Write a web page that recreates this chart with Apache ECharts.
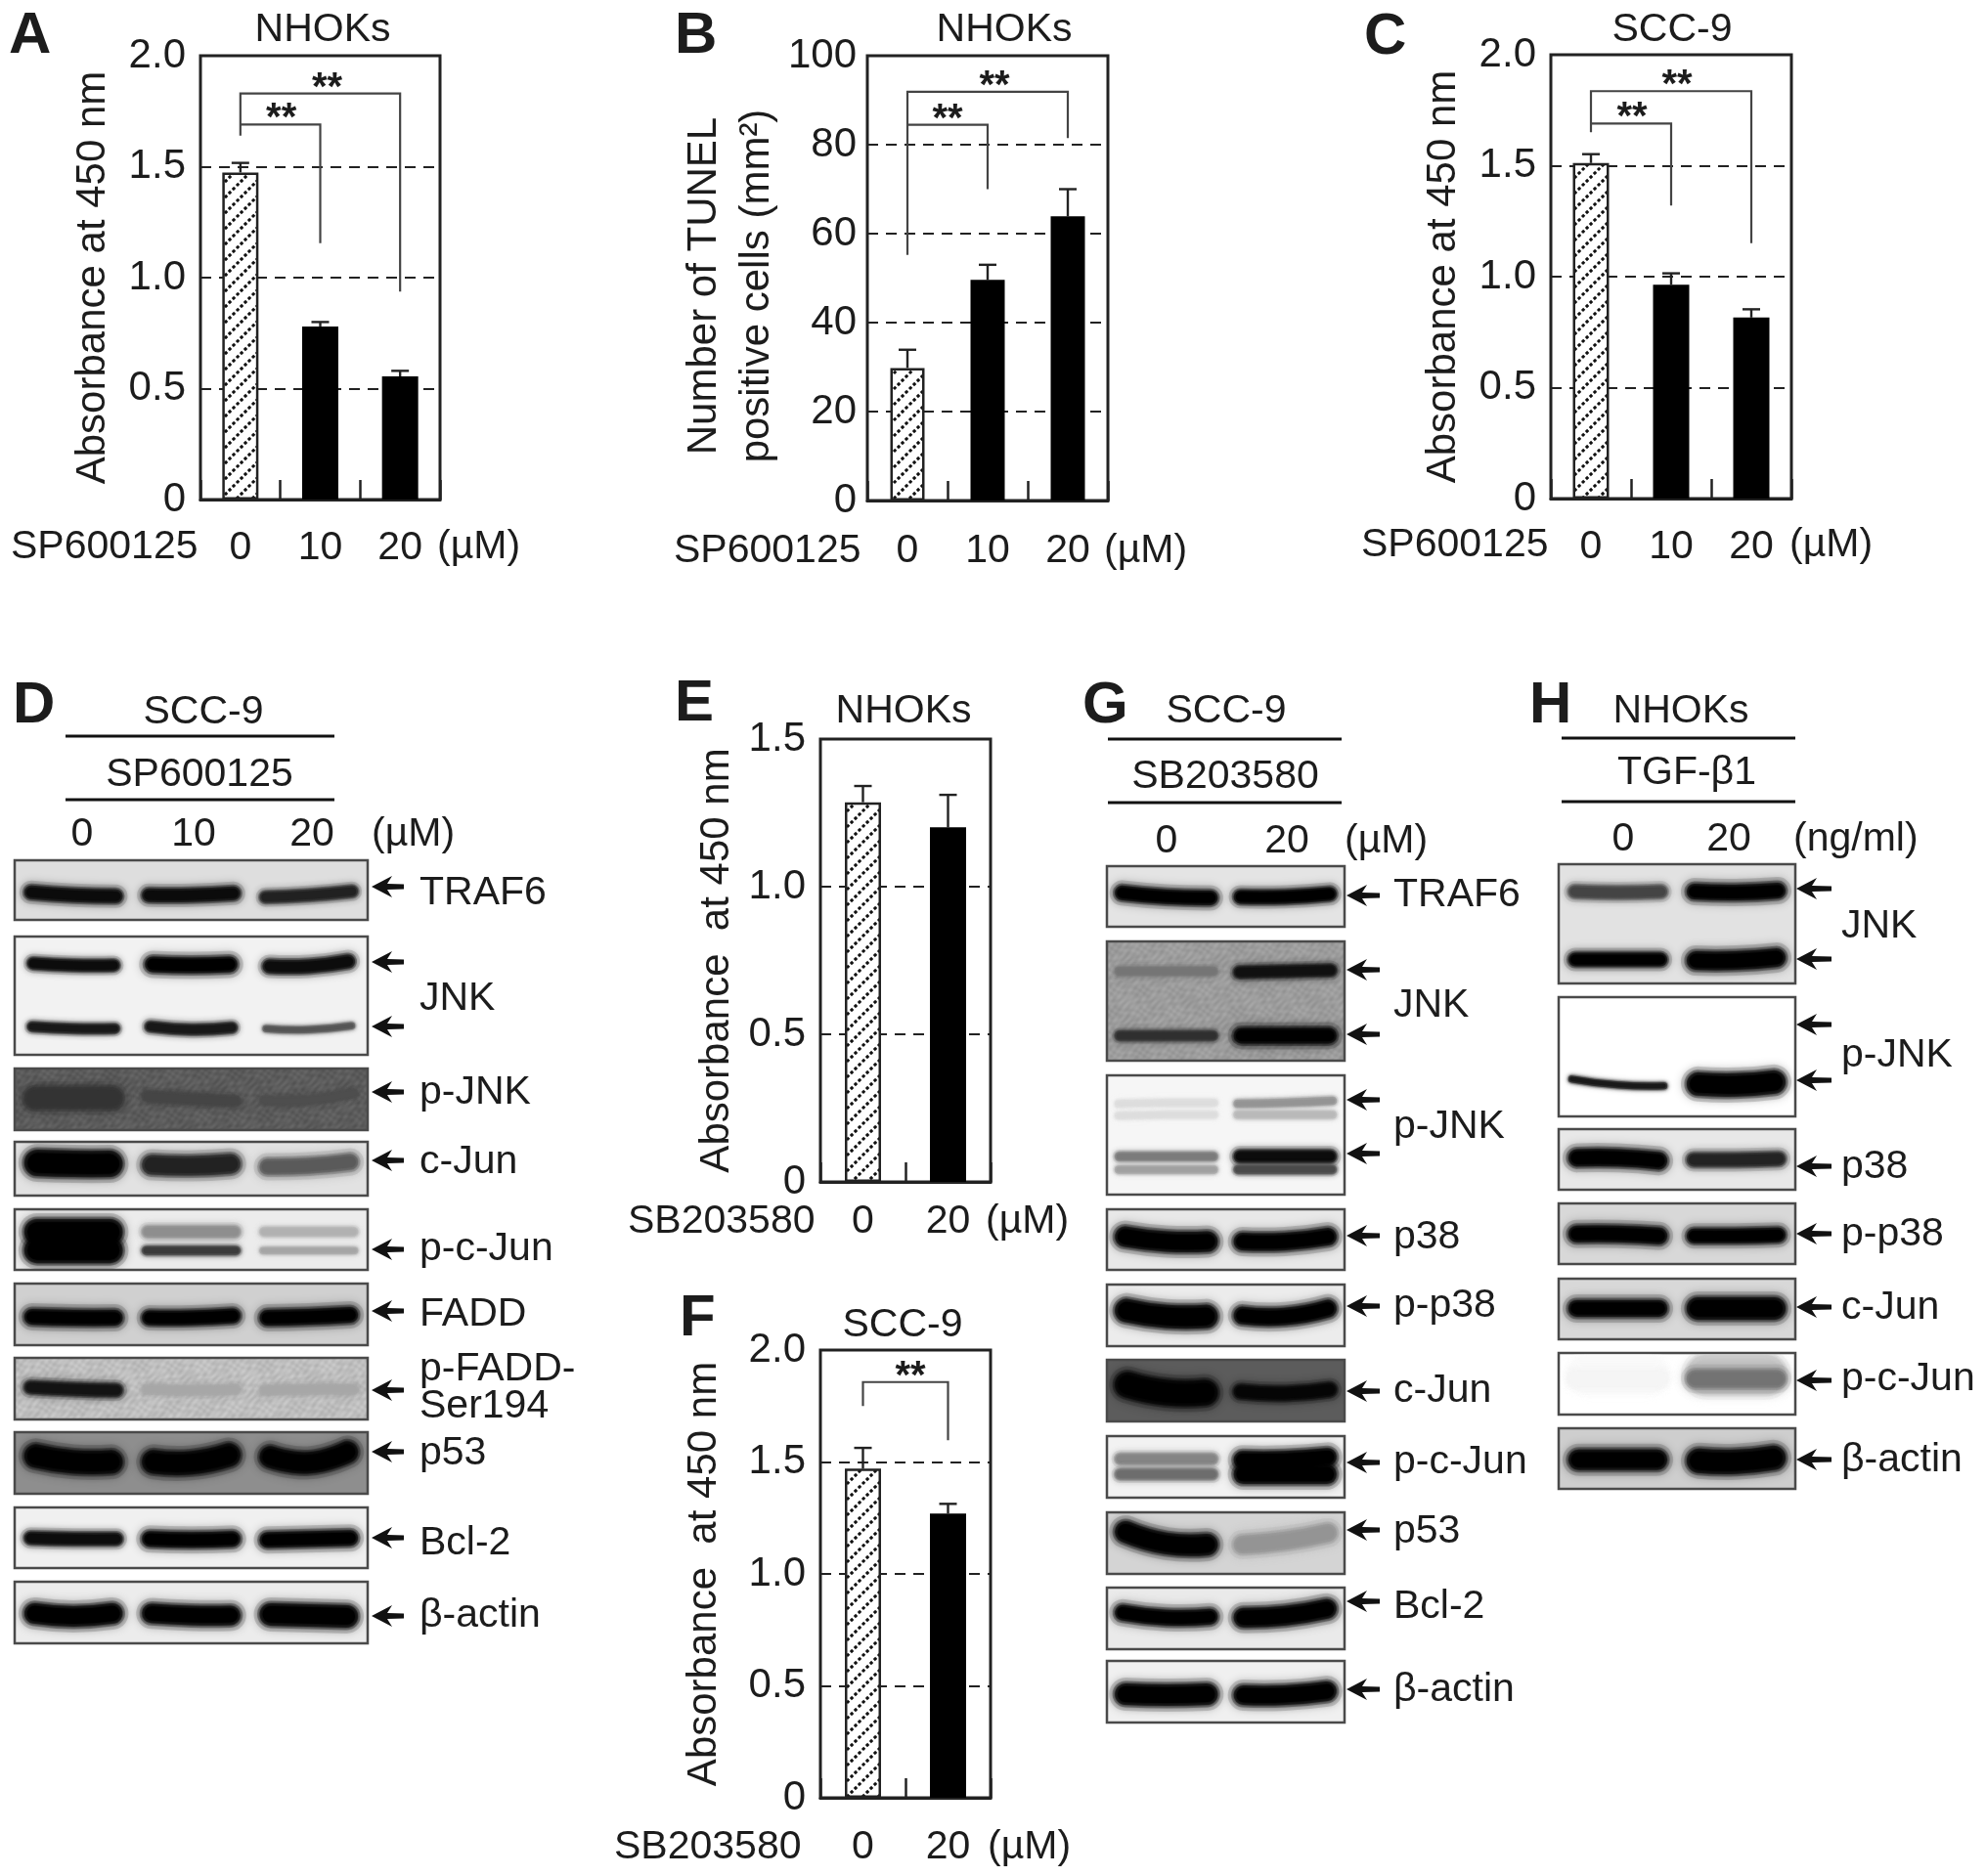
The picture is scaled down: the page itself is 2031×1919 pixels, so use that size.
<!DOCTYPE html>
<html>
<head>
<meta charset="utf-8">
<title>SP600125 / SB203580 / TGF-b1 figure</title>
<script src="https://cdn.jsdelivr.net/npm/echarts@6/dist/echarts.min.js"></script>
<style>
html, body { margin: 0; background: #fff; }
#main { width: 2031px; height: 1919px; }
</style>
</head>
<body>
<div id="main"></div>
<script>
// ---- bar chart values ----
var catsSP = ['0', '10', '20'];
var catsSB = ['0', '20'];

var ticksAbs2 = ['0', '0.5', '1.0', '1.5', '2.0'];
var ticksAbs15 = ['0', '0.5', '1.0', '1.5'];
var ticksTunel = ['0', '20', '40', '60', '80', '100'];

var valuesA = [1.474, 0.78, 0.555];
var errTopA = [1.517, 0.80, 0.58];
var valuesB = [29.8, 49.6, 63.9];
var errTopB = [33.9, 53, 70];
var valuesC = [1.512, 0.964, 0.816];
var errTopC = [1.552, 1.015, 0.853];
var valuesE = [1.286, 1.201];
var errTopE = [1.341, 1.311];
var valuesF = [1.47, 1.27];
var errTopF = [1.563, 1.313];

// from, to, level, left end, right end
var bracketsA = [[0, 2, 1.83, 1.64, 0.937], [0, 1, 1.69, 1.69, 1.155]];
var bracketsB = [[0, 2, 91.9, 55.2, 81.5], [0, 1, 84.5, 84.5, 70]];
var bracketsC = [[0, 2, 1.836, 1.651, 1.151], [0, 1, 1.69, 1.69, 1.32]];
var bracketsF = [[0, 1, 1.857, 1.75, 1.597]];

// ---- blot band densities, one value per lane ----
var lanesD = ['0', '10', '20'];
var lanesG = ['0', '20'];
var lanesH = ['0', '20'];

var dTraf6 = [0.95, 0.95, 0.85];
var dJnkUp = [0.95, 1, 0.95];
var dJnkLow = [0.9, 0.9, 0.65];
var dPJnk = [0.45, 0.25, 0.15];
var dCJun = [1, 0.85, 0.6];
var dPCJunUp = [1, 0.4, 0.25];
var dPCJunLow = [1, 0.75, 0.3];
var dFadd = [1, 1, 1];
var dPFadd = [0.9, 0.12, 0.12];
var dP53 = [1, 1, 1];
var dBcl2 = [0.95, 1, 1];
var dActin = [1, 1, 1];

var gTraf6 = [1, 1];
var gJnkUp = [0.25, 0.9];
var gJnkLow = [0.7, 1];
var gPJnkA = [0.1, 0.4];
var gPJnkB = [0.1, 0.25];
var gPJnkC = [0.5, 0.95];
var gPJnkD = [0.35, 0.7];
var gP38 = [1, 1];
var gPP38 = [1, 1];
var gCJun = [1, 0.95];
var gPCJunUp = [0.45, 1];
var gPCJunLow = [0.55, 1];
var gP53 = [1, 0.3];
var gBcl2 = [1, 1];
var gActin = [1, 1];

var hJnkUp = [0.7, 1];
var hJnkLow = [1, 1];
var hPJnk = [0.9, 1];
var hP38 = [1, 0.85];
var hPP38 = [1, 1];
var hCJun = [1, 1];
var hPCJunHalo = [0.02, 0.22];
var hPCJun = [0.04, 0.55];
var hActin = [1, 1];

// ---- blot layout ----
// top/bottom of the frame, background grey, rows: values, position 0-1, thickness per lane, curve per lane
var blotsD = [
	{y: [880, 941], bg: 222, rows: [{v: dTraf6, p: .57, t: [12, 12, 10], c: [[-2, 1, 2], [1, 1, -1], [3, 1, -3]]}]},
	{y: [958, 1079], bg: 242, w: .77, rows: [
		{v: dJnkUp, p: .235, t: [10, 14, 12], c: [[-1, 1, 1], [0, 1, 0], [2, 2, -3]]},
		{v: dJnkLow, p: .77, t: [8, 9, 5], c: [[-1, 1, 1], [-1, 2, 0], [1, 2, -2]]}
	]},
	{y: [1093, 1156], bg: 92, noise: 10, rows: [{v: dPJnk, p: .48, t: [20, 9, 7], c: [[0, 0, 0], [-2, 1, 3], [2, 2, -5]]}]},
	{y: [1168, 1223], bg: 226, rows: [{v: dCJun, p: .41, t: [25, 18, 14], c: [[-1, 0, 0], [1, 2, 0], [3, 2, -2]]}]},
	{y: [1237, 1299], bg: 236, rows: [
		{v: dPCJunUp, p: .37, t: [24, 10, 7], c: [[0, 0, 0], [0, 0, 0], [0, 0, 0]]},
		{v: dPCJunLow, p: .68, t: [24, 7, 5], c: [[0, 0, 0], [0, 0, 0], [0, 0, 0]]}
	]},
	{y: [1313, 1376], bg: 208, rows: [{v: dFadd, p: .54, t: [14, 13, 14], c: [[0, 1, 1], [1, 1, -1], [1, 0, -2]]}]},
	{y: [1389, 1452], bg: 190, noise: 12, rows: [{v: dPFadd, p: .51, t: [11, 8, 8], c: [[-2, 0, 1], [0, 1, 0], [1, 0, 0]]}]},
	{y: [1465, 1528], bg: 142, rows: [{v: dP53, p: .45, t: [22, 22, 20], c: [[-4, 2, 2], [2, 3, -5], [-3, 3, -8]]}]},
	{y: [1542, 1604], bg: 240, rows: [{v: dBcl2, p: .52, t: [11, 14, 14], c: [[-1, 0, 0], [0, 1, 0], [1, 0, -1]]}]},
	{y: [1618, 1681], bg: 236, rows: [{v: dActin, p: .53, t: [19, 18, 21], c: [[-1, 2, -1], [-1, 1, 1], [0, 1, 2]]}]}
];
var blotsG = [
	{y: [886, 948], bg: 228, rows: [{v: gTraf6, p: .49, t: [13, 12], c: [[-3, 1, 2], [1, 1, -2]]}]},
	{y: [963, 1085], bg: 156, noise: 10, rows: [
		{v: gJnkUp, p: .25, t: [7, 10], c: [[0, 0, 0], [1, 0, -1]]},
		{v: gJnkLow, p: .79, t: [8, 14], c: [[0, 0, 0], [0, 0, 0]]}
	]},
	{y: [1100, 1222], bg: 246, rows: [
		{v: gPJnkA, p: .23, t: [5, 6], c: [[1, 0, 0], [1, 0, -2]]},
		{v: gPJnkB, p: .33, t: [5, 6], c: [[1, 0, 0], [0, 0, 0]]},
		{v: gPJnkC, p: .68, t: [7, 11], c: [[0, 0, 0], [0, 0, 0]]},
		{v: gPJnkD, p: .79, t: [6, 7], c: [[0, 0, 0], [0, 0, 0]]}
	]},
	{y: [1237, 1299], bg: 232, rows: [{v: gP38, p: .5, t: [19, 16], c: [[-3, 2, 2], [2, 2, -3]]}]},
	{y: [1314, 1377], bg: 236, rows: [{v: gPP38, p: .47, t: [22, 16], c: [[-3, 3, 3], [2, 3, -5]]}]},
	{y: [1391, 1454], bg: 92, rows: [{v: gCJun, p: .5, t: [24, 12], c: [[-6, 2, 2], [1, 3, -1]]}]},
	{y: [1469, 1532], bg: 242, rows: [
		{v: gPCJunUp, p: .37, t: [9, 16], c: [[0, 0, 0], [1, 1, -2]]},
		{v: gPCJunLow, p: .62, t: [9, 18], c: [[0, 0, 0], [0, 0, 0]]}
	]},
	{y: [1547, 1610], bg: 212, rows: [{v: gP53, p: .46, t: [20, 16], c: [[-9, 3, 4], [4, 0, -8]]}]},
	{y: [1624, 1687], bg: 234, rows: [{v: gBcl2, p: .44, t: [14, 18], c: [[-2, 3, 2], [3, 1, -6]]}]},
	{y: [1699, 1762], bg: 240, rows: [{v: gActin, p: .54, t: [20, 18], c: [[0, 1, 0], [1, 1, -3]]}]}
];
var blotsH = [
	{y: [884, 1006], bg: 226, rows: [
		{v: hJnkUp, p: .23, t: [11, 14], c: [[0, 1, 0], [0, 1, -1]]},
		{v: hJnkLow, p: .8, t: [12, 17], c: [[0, 0, 0], [1, 1, -2]]}
	]},
	{y: [1020, 1142], bg: 255, rows: [{v: hPJnk, p: .72, t: [5, 22], c: [[-4, 2, 3], [1, 2, -1]]}]},
	{y: [1155, 1217], bg: 232, rows: [{v: hP38, p: .49, t: [16, 12], c: [[-1, -1, 2], [1, 1, 0]]}]},
	{y: [1231, 1293], bg: 216, rows: [{v: hPP38, p: .52, t: [15, 13], c: [[-1, -1, 1], [1, 1, 0]]}]},
	{y: [1308, 1370], bg: 216, rows: [{v: hCJun, p: .49, t: [15, 21], c: [[0, 0, 0], [0, 0, 0]]}]},
	{y: [1384, 1447], bg: 255, rows: [
		{v: hPCJunHalo, p: .35, t: [34, 38], c: [[0, 0, 0], [0, 0, 0]]},
		{v: hPCJun, p: .42, t: [14, 16], c: [[0, 0, 0], [0, 0, 0]]}
	]},
	{y: [1461, 1523], bg: 206, rows: [{v: hActin, p: .52, t: [19, 23], c: [[0, 0, 0], [1, 2, -2]]}]}
];

// ---- text and arrows beside the blots ----
var namesD = [['TRAF6', 911], ['JNK', 1019], ['p-JNK', 1115], ['c-Jun', 1186], ['p-c-Jun', 1275], ['FADD', 1342], ['p-FADD-', 1398], ['Ser194', 1436], ['p53', 1484], ['Bcl-2', 1576], ['β-actin', 1650]];
var arrowsD = [907, 984, 1050, 1117, 1187, 1278, 1341, 1422, 1485, 1573, 1653];
var namesG = [['TRAF6', 913], ['JNK', 1026], ['p-JNK', 1150], ['p38', 1263], ['p-p38', 1333], ['c-Jun', 1420], ['p-c-Jun', 1493], ['p53', 1564], ['Bcl-2', 1641], ['β-actin', 1726]];
var arrowsG = [916, 992, 1058, 1125, 1180, 1264, 1336, 1423, 1496, 1565, 1638, 1728];
var namesH = [['JNK', 945], ['p-JNK', 1077], ['p38', 1191], ['p-p38', 1260], ['c-Jun', 1335], ['p-c-Jun', 1408], ['β-actin', 1491]];
var arrowsH = [909, 981, 1048, 1105, 1193, 1262, 1337, 1412, 1493];

var FONT = 'Liberation Sans';
var INK = '#1c1c1c';
var FS = 41;

// hatch for the untreated bars
function hatchTile() {
	var c = document.createElement('canvas');
	c.width = 16; c.height = 16;
	var g = c.getContext('2d');
	g.fillStyle = '#fff';
	g.fillRect(0, 0, 16, 16);
	g.strokeStyle = '#111';
	g.lineWidth = 3;
	g.setLineDash([3.2, 2.4]);
	g.beginPath();
	g.moveTo(-2, 18); g.lineTo(18, -2);
	g.moveTo(-10, 10); g.lineTo(10, -10);
	g.moveTo(6, 26); g.lineTo(26, 6);
	g.stroke();
	return c;
}
var hatch = {image: hatchTile(), repeat: 'repeat'};

// mottled film background, only a texture
function filmTile(base, amp) {
	var c = document.createElement('canvas');
	c.width = 128; c.height = 64;
	var g = c.getContext('2d');
	var img = g.createImageData(128, 64);
	var k = 2 * Math.PI / 128, m = 2 * Math.PI / 64;
	for (var y = 0; y < 64; y++) {
		for (var x = 0; x < 128; x++) {
			var s = Math.sin(x * k * 7 + 2 * Math.sin(y * m * 3)) * Math.sin(y * m * 5 + 2 * Math.sin(x * k * 4))
				+ 0.5 * Math.sin(x * k * 19 + y * m * 7);
			var v = base + amp * s * 0.7, n = (y * 128 + x) * 4;
			img.data[n] = img.data[n + 1] = img.data[n + 2] = v;
			img.data[n + 3] = 255;
		}
	}
	g.putImageData(img, 0, 0);
	return {image: c, repeat: 'repeat'};
}

var grid = [], xAxis = [], yAxis = [], series = [], graphic = [];

function text(s, x, y, o) {
	o = o || {};
	graphic.push({
		type: 'text', x: x, y: y + 3, z: 50,
		style: {text: s, fill: INK, font: (o.weight || 'normal') + ' ' + (o.size || FS) + 'px "' + FONT + '"',
			textAlign: o.align || 'left', textVerticalAlign: 'middle'}
	});
}
function rule(x0, x1, y) {
	graphic.push({type: 'line', z: 50, shape: {x1: x0, y1: y, x2: x1, y2: y}, style: {stroke: '#111', lineWidth: 3}});
}
function arrow(tip, tail, y) {
	graphic.push({
		type: 'polygon', z: 50,
		shape: {points: [[tip, y], [tip + 21, y - 11], [tip + 16, y - 3], [tail, y - 2.5], [tail, y + 2.5], [tip + 16, y + 3], [tip + 21, y + 11]]},
		style: {fill: '#111'}
	});
}

function barPanel(o) {
	var i = grid.length;
	grid.push({left: o.box[0], top: o.box[2], width: o.box[1] - o.box[0], height: o.box[3] - o.box[2],
		show: true, borderColor: '#222', borderWidth: 3, backgroundColor: '#fff'});
	xAxis.push({
		gridIndex: i, type: 'category', data: o.cats,
		axisLine: {show: true, lineStyle: {color: '#222', width: 3}},
		axisTick: {show: true, inside: true, length: 20, alignWithLabel: false, lineStyle: {color: '#222', width: 2.5}},
		axisLabel: {margin: o.labelGap, fontSize: FS, fontFamily: FONT, color: INK, interval: 0},
		splitLine: {show: false}
	});
	yAxis.push({
		gridIndex: i, type: 'value', min: 0, max: o.max, interval: o.interval,
		name: o.yName, nameLocation: 'middle', nameGap: o.nameGap, nameRotate: 90,
		nameTextStyle: {fontSize: 42, fontFamily: FONT, color: INK, lineHeight: 54, padding: o.namePad || 0},
		axisLine: {show: false}, axisTick: {show: false},
		axisLabel: {margin: o.tickGap || 15, fontSize: 42, fontFamily: FONT, color: INK, padding: [10, 0, 0, 0], formatter: function (v, k) { return o.ticks[k]; }},
		splitLine: {show: true, lineStyle: {color: '#222', width: 2.2, type: [11, 8]}}
	});
	series.push({
		type: 'bar', xAxisIndex: i, yAxisIndex: i, barWidth: o.barWidth, z: 3, silent: true,
		data: o.values.map(function (v, k) {
			return k === 0
				? {value: v, itemStyle: {color: hatch, borderColor: '#222', borderWidth: 2.5}}
				: {value: v, itemStyle: {color: '#000'}};
		})
	});
	// error bars, upper side only
	series.push({
		type: 'custom', xAxisIndex: i, yAxisIndex: i, z: 2, silent: true,
		data: o.values.map(function (v, k) { return [k, v, o.errTop[k]]; }),
		encode: {x: 0, y: 2},
		renderItem: function (p, api) {
			var a = api.coord([api.value(0), api.value(1)]);
			var b = api.coord([api.value(0), api.value(2)]);
			return {type: 'group', children: [
				{type: 'line', shape: {x1: a[0], y1: a[1], x2: b[0], y2: b[1]}, style: {stroke: '#222', lineWidth: 2.4}},
				{type: 'line', shape: {x1: b[0] - 9, y1: b[1], x2: b[0] + 9, y2: b[1]}, style: {stroke: '#222', lineWidth: 2.4}}
			]};
		}
	});
	if (o.brackets) {
		series.push({
			type: 'custom', xAxisIndex: i, yAxisIndex: i, z: 4, silent: true,
			data: o.brackets,
			encode: {x: 0, y: 2},
			renderItem: function (p, api) {
				var from = api.value(0), to = api.value(1), lv = api.value(2);
				var a = api.coord([from, api.value(3)]);
				var b = api.coord([from, lv]);
				var c = api.coord([to, lv]);
				var d = api.coord([to, api.value(4)]);
				return {type: 'group', children: [
					{type: 'polyline', shape: {points: [a, b, c, d]}, style: {stroke: '#444', lineWidth: 2.2, fill: null}},
					{type: 'text', x: (b[0] + c[0]) / 2 + o.starDx[p.dataIndex], y: b[1] - 5,
						style: {text: '**', font: 'bold 40px "' + FONT + '"', fill: INK, textAlign: 'center', textVerticalAlign: 'middle'}}
				]};
			}
		});
	}
}

function blotPanel(blots, lanes, left, right, defW) {
	blots.forEach(function (b) {
		var i = grid.length;
		grid.push({left: left, right: 2031 - right, top: b.y[0], height: b.y[1] - b.y[0],
			show: true, borderColor: '#4a4a4a', borderWidth: 2.5,
			backgroundColor: b.noise ? filmTile(b.bg, b.noise) : 'rgb(' + b.bg + ',' + b.bg + ',' + b.bg + ')'});
		xAxis.push({gridIndex: i, type: 'category', data: lanes, show: false});
		yAxis.push({gridIndex: i, type: 'value', min: 0, max: 1, inverse: true, show: false, splitLine: {show: false}});
		var rows = [];
		b.rows.forEach(function (r, rowIdx) {
			r.v.forEach(function (d, lane) { rows.push([lane, r.p, d, rowIdx]); });
		});
		series.push({
			type: 'custom', xAxisIndex: i, yAxisIndex: i, silent: true, z: 2,
			data: rows, encode: {x: 0, y: 1},
			renderItem: function (p, api) {
				var lane = api.value(0), r = b.rows[api.value(3)];
				var c = api.coord([lane, api.value(1)]);
				var w = api.size([1, 0])[0] * (b.w || defW);
				var t = r.t[lane], cv = r.c[lane];
				var g = Math.round(b.bg * (1 - api.value(2)));
				var col = 'rgb(' + g + ',' + g + ',' + g + ')';
				var cs = p.coordSys;
				var hw = w / 2 - t / 2;
				var pts = [[c[0] - hw, c[1] + cv[0]], [c[0], c[1] + cv[1]], [c[0] + hw, c[1] + cv[2]]];
				var halo = Math.min(14, t);
				// soft edge: wide faint strokes under a blurred core
				var layer = function (lw, op, blur) {
					return {
						type: 'polyline',
						shape: {points: pts, smooth: 0.5},
						style: {stroke: col, lineWidth: lw, lineCap: 'round', fill: null, opacity: op, shadowBlur: blur, shadowColor: col}
					};
				};
				return {
					type: 'group',
					clipPath: {type: 'rect', shape: {x: cs.x + 1, y: cs.y + 1, width: cs.width - 2, height: cs.height - 2}},
					children: [layer(t + halo, .14, halo * .7), layer(t + halo / 2, .28, 6), layer(t + 2, .5, 3), layer(Math.max(t * .8, 3), 1, 5)]
				};
			}
		});
	});
}

// ---- bar panels ----
barPanel({box: [205, 450, 57, 511], cats: catsSP, values: valuesA, errTop: errTopA, ticks: ticksAbs2, max: 2, interval: .5,
	yName: 'Absorbance at 450 nm', nameGap: 83, barWidth: 37, labelGap: 29, brackets: bracketsA, starDx: [7, 1]});
barPanel({box: [887, 1133, 57, 512], cats: catsSP, values: valuesB, errTop: errTopB, ticks: ticksTunel, max: 100, interval: 20, tickGap: 11,
	yName: 'Number of TUNEL\npositive cells (mm²)', nameGap: 86, namePad: [0, 16, 0, 0], barWidth: 35, labelGap: 31, brackets: bracketsB, starDx: [7, 0]});
barPanel({box: [1586, 1832, 56, 510], cats: catsSP, values: valuesC, errTop: errTopC, ticks: ticksAbs2, max: 2, interval: .5,
	yName: 'Absorbance at 450 nm', nameGap: 83, barWidth: 37, labelGap: 29, brackets: bracketsC, starDx: [6, 1]});
barPanel({box: [839, 1013, 756, 1209], cats: catsSB, values: valuesE, errTop: errTopE, ticks: ticksAbs15, max: 1.5, interval: .5,
	yName: 'Absorbance  at 450 nm', nameGap: 79, barWidth: 37, labelGap: 20, starDx: []});
barPanel({box: [839, 1013, 1381, 1839], cats: catsSB, values: valuesF, errTop: errTopF, ticks: ticksAbs2, max: 2, interval: .5,
	yName: 'Absorbance  at 450 nm', nameGap: 92, barWidth: 37, labelGap: 30, brackets: bracketsF, starDx: [5]});

// ---- blot panels ----
blotPanel(blotsD, lanesD, 15, 376, .82);
blotPanel(blotsG, lanesG, 1132, 1375, .85);
blotPanel(blotsH, lanesH, 1594, 1836, .82);

// ---- panel letters ----
[['A', 9, 34], ['B', 690, 34], ['C', 1395, 35], ['D', 13, 719], ['E', 690, 717], ['F', 695, 1346], ['G', 1107, 719], ['H', 1564, 719]].forEach(function (l) {
	text(l[0], l[1], l[2], {size: 60, weight: 'bold'});
});

// ---- titles and x captions of the bar panels ----
text('NHOKs', 330, 28, {align: 'center'});
text('NHOKs', 1027, 28, {align: 'center'});
text('SCC-9', 1710, 28, {align: 'center'});
text('NHOKs', 924, 725, {align: 'center'});
text('SCC-9', 923, 1353, {align: 'center'});
text('SP600125', 11, 557);
text('(µM)', 447, 557);
text('SP600125', 689, 561);
text('(µM)', 1129, 561);
text('SP600125', 1392, 555);
text('(µM)', 1830, 555);
text('SB203580', 642, 1247);
text('(µM)', 1008, 1247);
text('SB203580', 628, 1887);
text('(µM)', 1010, 1887);

// ---- headers of the blot panels ----
text('SCC-9', 208, 726, {align: 'center'});
rule(67, 342, 753);
text('SP600125', 204, 790, {align: 'center'});
rule(67, 342, 818);
text('0', 84, 851, {align: 'center'});
text('10', 198, 851, {align: 'center'});
text('20', 319, 851, {align: 'center'});
text('(µM)', 380, 851);

text('SCC-9', 1254, 725, {align: 'center'});
rule(1133, 1372, 756);
text('SB203580', 1253, 792, {align: 'center'});
rule(1133, 1372, 821);
text('0', 1193, 858, {align: 'center'});
text('20', 1316, 858, {align: 'center'});
text('(µM)', 1375, 858);

text('NHOKs', 1719, 725, {align: 'center'});
rule(1597, 1836, 755);
text('TGF-β1', 1725, 788, {align: 'center'});
rule(1597, 1836, 820);
text('0', 1660, 856, {align: 'center'});
text('20', 1768, 856, {align: 'center'});
text('(ng/ml)', 1834, 856);

namesD.forEach(function (n) { text(n[0], 429, n[1]); });
namesG.forEach(function (n) { text(n[0], 1425, n[1]); });
namesH.forEach(function (n) { text(n[0], 1883, n[1]); });
arrowsD.forEach(function (y) { arrow(380, 413, y); });
arrowsG.forEach(function (y) { arrow(1377, 1411, y); });
arrowsH.forEach(function (y) { arrow(1837, 1873, y); });

var myChart = echarts.init(document.getElementById('main'), null, {renderer: 'canvas'});
myChart.setOption({
	animation: false,
	backgroundColor: '#fff',
	textStyle: {fontFamily: FONT},
	grid: grid,
	xAxis: xAxis,
	yAxis: yAxis,
	series: series,
	graphic: graphic
});
</script>
</body>
</html>
